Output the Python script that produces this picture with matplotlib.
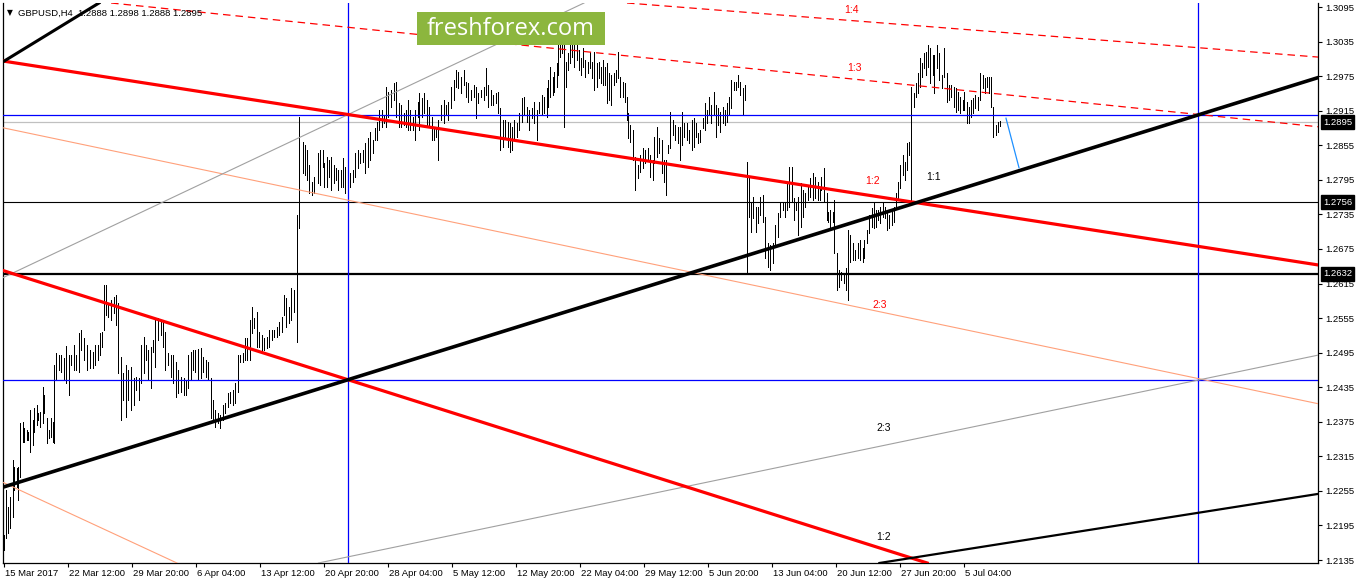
import numpy as np
import matplotlib
matplotlib.use("Agg")
import matplotlib.pyplot as plt
from matplotlib import transforms

plt.rcParams['font.family'] = ['Liberation Sans', 'DejaVu Sans']

# ---------------- DATA ----------------
symbol_header = "GBPUSD,H4  1.2888 1.2898 1.2888 1.2895"

# bar time in 2-hour units from 15 Mar 2017 00:00 (trading time)
bar_t = [0,2,4,6,9,10,13,14,16,19,
 20,23,24,26,29,30,33,34,36,39,
 40,43,45,47,49,50,52,55,57,60,
 62,65,67,70,72,75,77,80,83,86,
 89,91,94,96,98,100,102,104,107,110,
 112,114,117,119,122,124,127,130,132,135,
 137,140,142,144,147,149,151,154,157,159,
 161,164,167,169,172,174,177,180,182,184,
 187,189,191,194,197,199,202,204,207,209,
 211,214,216,219,221,224,226,229,231,234,
 236,239,241,243,246,248,250,253,255,258,
 260,263,265,268,270,273,275,278,280,282,
 285,287,290,293,295,299,301,303,305,308,
 310,314,316,319,320,323,325,327,330,332,
 334,337,339,341,344,346,349,351,354,356,
 359,361,364,366,369,371,373,375,378,380,
 382,384,387,390,392,395,397,400,402,404,
 406,409,411,414,415,418,420,423,425,428,
 430,432,434,437,440,442,444,447,450,452,
 454,457,460,462,464,467,470,472,474,477,
 480,482,484,487,489,492,494,496,499,501,
 504,506,508,510,513,515,518,520,523,525,
 528,530,533,535,538,540,543,544,546,549,
 550,553,554,556,558,560,562,564,566,568,
 570,573,575,577,579,581,584,586,588,590,
 593,595,597,599,601,603,605,607,610,612,
 614,616,619,621,623,624,626,629,631,634,
 636,639,641,644,646,649,650,653,655,658,
 660,662,664,666,669,671,674,676,678,680,
 683,685,688,690,692,694,696,699,701,703,
 705,707,710,712,714,716,719,721,723,725,
 727,730,732,734,736,739,741,743,745,747,
 749,752,754,756,759,761,764,766,769,771,
 774,776,779,781,783,785,788,790,792,794,
 797,799,801,804,806,809,811,814,816,817,
 820,823,824,826,829,830,833,835,837,840,
 842,844,846,849,851,854,856,859,860,863,
 865,868,870,872,874,876,879,881,883,885,
 888,890,892,894,896,899,901,903,905,907,
 910,912,914,916,918,920,922,924,926,929,
 930,933,935,938,940,943,945,947,950,952,
 954,956,959,960,963,965,967,969,971,974,
 976,979,981,983,985,987,989,992,994,996]

bar_high = [1.2178,1.2257,1.2227,1.2244,1.2309,1.2296,1.2295,1.2296,1.2373,1.2375,
 1.2364,1.2361,1.2357,1.2395,1.2378,1.2399,1.2404,1.2390,1.2392,1.2435,
 1.2422,1.2381,1.2361,1.2381,1.2375,1.2474,1.2494,1.2491,1.2491,1.2486,
 1.2507,1.2491,1.2491,1.2508,1.2491,1.2529,1.2534,1.2520,1.2508,1.2500,
 1.2496,1.2508,1.2508,1.2529,1.2531,1.2612,1.2612,1.2578,1.2586,1.2592,
 1.2595,1.2581,1.2487,1.2460,1.2474,1.2465,1.2470,1.2451,1.2453,1.2451,
 1.2508,1.2522,1.2508,1.2500,1.2505,1.2517,1.2552,1.2555,1.2552,1.2548,
 1.2531,1.2494,1.2491,1.2491,1.2479,1.2465,1.2453,1.2451,1.2448,1.2491,
 1.2496,1.2500,1.2500,1.2501,1.2503,1.2487,1.2482,1.2479,1.2451,1.2413,
 1.2395,1.2390,1.2387,1.2404,1.2408,1.2425,1.2427,1.2430,1.2442,1.2491,
 1.2491,1.2494,1.2520,1.2520,1.2552,1.2574,1.2555,1.2566,1.2531,1.2526,
 1.2520,1.2522,1.2534,1.2534,1.2534,1.2539,1.2548,1.2557,1.2595,1.2590,
 1.2574,1.2607,1.2604,1.2734,1.2904,1.2861,1.2856,1.2847,1.2821,1.2791,
 1.2800,1.2842,1.2847,1.2847,1.2824,1.2835,1.2829,1.2835,1.2821,1.2816,
 1.2812,1.2812,1.2833,1.2817,1.2809,1.2807,1.2812,1.2842,1.2847,1.2842,
 1.2847,1.2859,1.2868,1.2878,1.2864,1.2885,1.2895,1.2916,1.2916,1.2908,
 1.2956,1.2947,1.2951,1.2963,1.2965,1.2928,1.2925,1.2911,1.2916,1.2934,
 1.2916,1.2904,1.2916,1.2930,1.2946,1.2937,1.2946,1.2934,1.2921,1.2904,
 1.2885,1.2885,1.2899,1.2925,1.2934,1.2925,1.2930,1.2956,1.2968,1.2986,
 1.2982,1.2973,1.2986,1.2965,1.2963,1.2951,1.2960,1.2956,1.2946,1.2951,
 1.2956,1.2989,1.2960,1.2951,1.2942,1.2946,1.2947,1.2920,1.2899,1.2899,
 1.2895,1.2894,1.2887,1.2899,1.2894,1.2911,1.2937,1.2939,1.2921,1.2916,
 1.2920,1.2930,1.2916,1.2930,1.2942,1.2939,1.2954,1.2968,1.2991,1.2973,
 1.2982,1.2998,1.3034,1.3041,1.3038,1.3034,1.2999,1.3015,1.3029,1.3033,
 1.3029,1.3029,1.3020,1.3007,1.3024,1.3003,1.2999,1.3017,1.2999,1.3017,
 1.2998,1.2999,1.2991,1.3003,1.2991,1.2998,1.2980,1.2977,1.2980,1.2986,
 1.3017,1.2973,1.2965,1.2963,1.2939,1.2911,1.2890,1.2882,1.2835,1.2821,
 1.2838,1.2850,1.2847,1.2850,1.2838,1.2829,1.2869,1.2887,1.2868,1.2864,
 1.2829,1.2829,1.2856,1.2913,1.2899,1.2890,1.2887,1.2887,1.2913,1.2894,
 1.2894,1.2882,1.2899,1.2902,1.2894,1.2876,1.2882,1.2902,1.2928,1.2916,
 1.2939,1.2925,1.2947,1.2925,1.2920,1.2913,1.2921,1.2916,1.2928,1.2939,
 1.2968,1.2965,1.2965,1.2977,1.2965,1.2954,1.2960,1.2826,1.2800,1.2756,
 1.2765,1.2748,1.2748,1.2765,1.2769,1.2730,1.2685,1.2682,1.2685,1.2717,
 1.2737,1.2755,1.2756,1.2756,1.2791,1.2817,1.2817,1.2763,1.2756,1.2765,
 1.2789,1.2777,1.2772,1.2783,1.2798,1.2807,1.2800,1.2791,1.2783,1.2800,
 1.2816,1.2772,1.2739,1.2743,1.2739,1.2760,1.2668,1.2638,1.2635,1.2633,
 1.2642,1.2708,1.2699,1.2685,1.2673,1.2685,1.2691,1.2677,1.2691,1.2708,
 1.2734,1.2746,1.2756,1.2743,1.2743,1.2748,1.2755,1.2748,1.2737,1.2734,
 1.2739,1.2748,1.2772,1.2791,1.2821,1.2838,1.2826,1.2859,1.2861,1.2956,
 1.2946,1.2963,1.2980,1.3007,1.2998,1.3015,1.3017,1.3029,1.3024,1.3012,
 1.3012,1.3029,1.3015,1.2977,1.3024,1.2980,1.2960,1.2960,1.2956,1.2954,
 1.2947,1.2939,1.2934,1.2947,1.2930,1.2921,1.2934,1.2937,1.2942,1.2939,
 1.2980,1.2977,1.2972,1.2973,1.2973,1.2973,1.2921,1.2890,1.2895,1.2898]

bar_low = [1.2152,1.2173,1.2182,1.2190,1.2209,1.2257,1.2262,1.2239,1.2279,1.2340,
 1.2340,1.2343,1.2343,1.2323,1.2335,1.2357,1.2369,1.2378,1.2366,1.2373,
 1.2390,1.2338,1.2347,1.2349,1.2340,1.2338,1.2448,1.2465,1.2461,1.2448,
 1.2442,1.2422,1.2474,1.2465,1.2465,1.2461,1.2500,1.2482,1.2465,1.2468,
 1.2468,1.2474,1.2482,1.2491,1.2505,1.2534,1.2560,1.2557,1.2552,1.2564,
 1.2543,1.2460,1.2378,1.2413,1.2383,1.2413,1.2395,1.2404,1.2430,1.2413,
 1.2442,1.2460,1.2482,1.2448,1.2434,1.2496,1.2470,1.2517,1.2526,1.2505,
 1.2465,1.2474,1.2453,1.2442,1.2418,1.2425,1.2427,1.2422,1.2422,1.2434,
 1.2448,1.2465,1.2461,1.2448,1.2451,1.2461,1.2453,1.2448,1.2381,1.2378,
 1.2366,1.2373,1.2364,1.2378,1.2390,1.2401,1.2408,1.2404,1.2408,1.2427,
 1.2479,1.2479,1.2482,1.2482,1.2482,1.2529,1.2538,1.2505,1.2505,1.2496,
 1.2500,1.2503,1.2505,1.2517,1.2522,1.2522,1.2526,1.2531,1.2560,1.2539,
 1.2546,1.2552,1.2566,1.2513,1.2711,1.2807,1.2803,1.2795,1.2772,1.2769,
 1.2772,1.2789,1.2786,1.2817,1.2783,1.2783,1.2800,1.2777,1.2789,1.2795,
 1.2777,1.2783,1.2783,1.2772,1.2783,1.2783,1.2791,1.2800,1.2816,1.2824,
 1.2826,1.2807,1.2817,1.2829,1.2842,1.2864,1.2864,1.2882,1.2887,1.2894,
 1.2887,1.2904,1.2921,1.2934,1.2904,1.2887,1.2887,1.2890,1.2887,1.2882,
 1.2882,1.2882,1.2864,1.2904,1.2882,1.2904,1.2911,1.2887,1.2887,1.2864,
 1.2864,1.2869,1.2829,1.2899,1.2894,1.2908,1.2899,1.2920,1.2934,1.2956,
 1.2954,1.2946,1.2960,1.2939,1.2930,1.2934,1.2939,1.2902,1.2928,1.2939,
 1.2934,1.2942,1.2921,1.2925,1.2925,1.2928,1.2911,1.2847,1.2852,1.2869,
 1.2852,1.2843,1.2847,1.2864,1.2869,1.2882,1.2895,1.2908,1.2895,1.2882,
 1.2902,1.2894,1.2864,1.2911,1.2908,1.2911,1.2904,1.2921,1.2939,1.2942,
 1.2947,1.2956,1.2977,1.3008,1.3015,1.2887,1.2956,1.2986,1.2998,1.3008,
 1.2991,1.3003,1.2986,1.2977,1.2991,1.2973,1.2980,1.2989,1.2972,1.2951,
 1.2956,1.2972,1.2963,1.2960,1.2960,1.2928,1.2934,1.2925,1.2960,1.2965,
 1.2972,1.2939,1.2939,1.2930,1.2899,1.2868,1.2861,1.2829,1.2777,1.2798,
 1.2809,1.2816,1.2824,1.2829,1.2800,1.2795,1.2824,1.2835,1.2842,1.2807,
 1.2791,1.2769,1.2842,1.2850,1.2873,1.2864,1.2859,1.2829,1.2856,1.2869,
 1.2864,1.2859,1.2847,1.2852,1.2869,1.2859,1.2861,1.2885,1.2882,1.2894,
 1.2908,1.2894,1.2908,1.2869,1.2890,1.2878,1.2894,1.2890,1.2895,1.2908,
 1.2920,1.2951,1.2951,1.2956,1.2942,1.2908,1.2934,1.2635,1.2730,1.2704,
 1.2729,1.2704,1.2720,1.2734,1.2722,1.2659,1.2644,1.2638,1.2651,1.2678,
 1.2696,1.2730,1.2743,1.2730,1.2743,1.2748,1.2756,1.2725,1.2743,1.2699,
 1.2713,1.2730,1.2748,1.2760,1.2765,1.2760,1.2763,1.2760,1.2760,1.2777,
 1.2756,1.2725,1.2722,1.2708,1.2722,1.2668,1.2604,1.2609,1.2621,1.2616,
 1.2604,1.2586,1.2652,1.2656,1.2656,1.2659,1.2656,1.2652,1.2659,1.2685,
 1.2703,1.2713,1.2711,1.2713,1.2725,1.2720,1.2730,1.2729,1.2708,1.2711,
 1.2717,1.2722,1.2746,1.2760,1.2781,1.2803,1.2795,1.2812,1.2838,1.2755,
 1.2921,1.2939,1.2946,1.2956,1.2973,1.2989,1.2977,1.2991,1.2963,1.2977,
 1.2946,1.2989,1.2968,1.2954,1.2973,1.2930,1.2934,1.2939,1.2921,1.2913,
 1.2916,1.2911,1.2916,1.2916,1.2894,1.2894,1.2904,1.2911,1.2920,1.2916,
 1.2934,1.2954,1.2946,1.2956,1.2946,1.2921,1.2869,1.2873,1.2878,1.2888]

# price axis ticks
price_ticks = [1.2135 + 0.006 * k for k in range(17)]
# time axis labels (every 64 units = 32 H4 bars)
time_ticks = [64 * k for k in range(16)]
time_labels = ["15 Mar 2017", "22 Mar 12:00", "29 Mar 20:00", "6 Apr 04:00",
               "13 Apr 12:00", "20 Apr 20:00", "28 Apr 04:00", "5 May 12:00",
               "12 May 20:00", "22 May 04:00", "29 May 12:00", "5 Jun 20:00",
               "13 Jun 04:00", "20 Jun 12:00", "27 Jun 20:00", "5 Jul 04:00"]

# horizontal levels
bid_price = 1.2895
black_levels = [1.2756, 1.2632]
blue_levels = [1.2908, 1.2448]
blue_times = [344, 1194]

# trend lines: two anchor points (time, price)
red_fan_upper = [(0, 1.3001), (1315, 1.2647)]
red_fan_lower = [(0, 1.2637), (344, 1.2448)]
black_fan_main = [(0, 1.2262), (1315, 1.2973)]
black_fan_steep = [(0, 1.3001), (95, 1.3102)]
black_fan_low = [(1187, 1.2215), (1315, 1.2250)]
red_dash_13 = [(197, 1.3086), (1315, 1.2887)]
red_dash_14 = [(623, 1.3102), (1315, 1.3008)]
salmon_upper = [(0, 1.2885), (1315, 1.2406)]
salmon_lower = [(0, 1.2269), (164, 1.2137)]
gray_low = [(315, 1.2130), (1315, 1.2491)]
gray_high = [(0, 1.2626), (580, 1.3102)]
projection = [(1002, 1.2902), (1015, 1.2816)]

# ratio labels: (time, price, text, colour)
ratio_labels = [(840, 1.3090, "1:4", "red"), (843, 1.2989, "1:3", "red"),
                (861, 1.2793, "1:2", "red"), (922, 1.2800, "1:1", "black"),
                (868, 1.2578, "2:3", "red"), (872, 1.2364, "2:3", "black"),
                (872, 1.2175, "1:2", "black")]

# ---------------- PLOT ----------------
W, H = 1358, 584
fig = plt.figure(figsize=(W / 100, H / 100), dpi=100)
fig.patch.set_facecolor("white")
ax = fig.add_axes([3 / W, 21 / H, 1315 / W, 560 / H])
ax.set_xlim(-1, 1314)
ax.set_ylim(1.21298, 1.31020)

# bars
ax.vlines(bar_t, bar_low, bar_high, colors="black", linewidth=0.6,
          antialiased=False, zorder=2)

# horizontal levels
ax.axhline(bid_price, color="#C0C0C0", lw=0.9, zorder=1)
ax.axhline(black_levels[0], color="black", lw=0.8, zorder=3)
ax.axhline(black_levels[1], color="black", lw=1.6, zorder=3)
for lv in blue_levels:
    ax.axhline(lv, color="#0000FF", lw=0.9, zorder=3)
for tv in blue_times:
    ax.axvline(tv, color="#0000FF", lw=0.9, zorder=3)

def tline(pts, **kw):
    ax.axline(pts[0], pts[1], **kw)

tline(salmon_upper, color="#FFA07A", lw=0.8, zorder=3)
tline(salmon_lower, color="#FFA07A", lw=0.8, zorder=3)
tline(gray_low, color="#A0A0A0", lw=0.8, zorder=3)
tline(gray_high, color="#A0A0A0", lw=0.8, zorder=3)
tline(red_dash_13, color="red", lw=0.9, ls=(0, (6, 4)), zorder=3)
tline(red_dash_14, color="red", lw=0.9, ls=(0, (6, 4)), zorder=3)
tline(red_fan_upper, color="red", lw=2.3, zorder=4)
tline(red_fan_lower, color="red", lw=2.3, zorder=4)
tline(black_fan_main, color="black", lw=2.6, zorder=4)
tline(black_fan_steep, color="black", lw=2.2, zorder=4)
tline(black_fan_low, color="black", lw=1.6, zorder=4)
ax.plot([projection[0][0], projection[1][0]], [projection[0][1], projection[1][1]],
        color="#1E90FF", lw=0.9, zorder=4)

for tx, py, s, c in ratio_labels:
    ax.text(tx, py, s, color=c, fontsize=7.5, ha="left", va="center", zorder=5)

# spines / ticks
for sp in ["left", "bottom", "right"]:
    ax.spines[sp].set_color("black")
    ax.spines[sp].set_linewidth(0.9)
ax.spines["top"].set_visible(False)

ax.yaxis.tick_right()
ax.set_yticks(price_ticks)
ax.set_yticklabels([f"{v:.4f}" for v in price_ticks])
ax.tick_params(axis="y", direction="out", length=3, width=0.8, pad=2,
               labelsize=6.8, colors="black")
ax.set_xticks(time_ticks)
ax.set_xticklabels(time_labels)
ax.tick_params(axis="x", direction="out", length=3, width=0.8, pad=1.5,
               labelsize=6.8, colors="black")
offset = transforms.ScaledTranslation(1 / 100, 0, fig.dpi_scale_trans)
for lbl in ax.get_xticklabels():
    lbl.set_horizontalalignment("left")
    lbl.set_transform(lbl.get_transform() + offset)

# price boxes on axis
blend = transforms.blended_transform_factory(ax.transAxes, ax.transData)
for pv in [bid_price] + black_levels:
    ax.text(1.0 + 5 / 1315, pv, f"{pv:.4f}", transform=blend, color="white",
            fontsize=6.8, ha="left", va="center", zorder=6, clip_on=False,
            bbox=dict(boxstyle="square,pad=0.25", fc="black", ec="black"))

# header
ax.text(4 / 1315, 1 - 10 / 560, "\u25BC", transform=ax.transAxes, fontsize=5.5,
        ha="left", va="center", color="black", family="DejaVu Sans")
ax.text(15 / 1315, 1 - 10 / 560, symbol_header, transform=ax.transAxes,
        fontsize=6.8, ha="left", va="center", color="black")

# watermark
fig.patches.append(plt.Rectangle((417 / W, 1 - 45 / H), 188 / W, 33 / H,
                                 transform=fig.transFigure, facecolor="#8CB63E",
                                 edgecolor="none", zorder=10))
fig.text(511 / W, 1 - 29 / H, "freshforex.com", color="white", fontsize=17,
         family=["Open Sans", "DejaVu Sans"], ha="center", va="center", zorder=11)

fig.savefig("out.png", dpi=100)
